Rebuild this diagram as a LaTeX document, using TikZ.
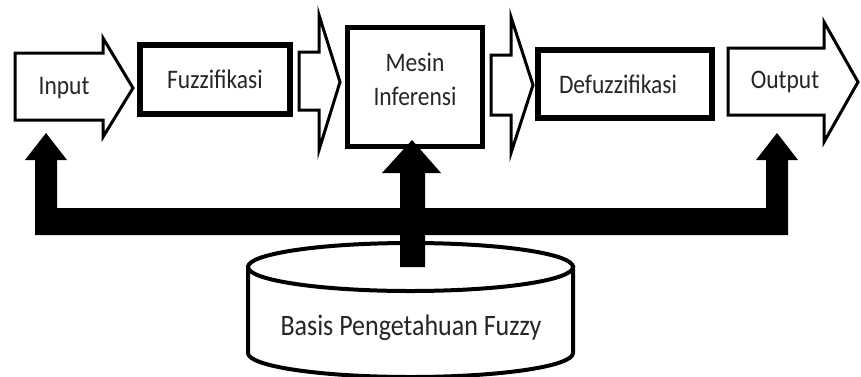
\documentclass[tikz,border=0pt]{standalone}
\usepackage{graphicx}
\usepackage{fontspec}
\setmainfont{Carlito}
\newcommand\tallt[1]{\scalebox{1}[1.14]{#1}}
\tikzset{
  hollow/.style={draw=black, fill=white, line width=3pt, line join=miter},
  procbox/.style={draw=black, fill=white, line width=6pt, inner sep=0pt, text=black!85,
    font=\fontsize{23.5}{30}\selectfont},
  lbl/.style={inner sep=0pt, text=black!85, font=\fontsize{23.5}{30}\selectfont},
  feed/.style={fill=black, draw=none},
}
\begin{document}
\begin{tikzpicture}[x=1pt,y=-1pt]
\useasboundingbox (0,0) rectangle (861,376);
% input arrow
\draw[hollow] (15,53) -- (103,53) -- (103,38) -- (133,88) -- (103,137) -- (103,120) -- (15,120) -- cycle;
\node[lbl] (input) at (64,88) {\tallt{Input}};
% boxes
\node[procbox, minimum width=150pt, minimum height=69pt] (fuzz) at (215,79.5) {\tallt{Fuzzifikasi}};
\node[procbox, line width=5pt, minimum width=135pt, minimum height=119pt] (mesin) at (415,87)
  {\raisebox{5pt}[\height][\depth]{\tallt{\begin{tabular}{@{}c@{}}Mesin\\Inferensi\end{tabular}}}};
\node[procbox, minimum width=174pt, minimum height=68pt] (defuzz) at (625,84) {\tallt{Defuzzifikasi}\hspace*{14pt}};
% connecting hollow arrows
\draw[hollow] (299,52) -- (319,52) -- (319,15) -- (340,82) -- (319,150) -- (319,110) -- (299,110) -- cycle;
\draw[hollow] (491,55) -- (511,55) -- (511,17) -- (533,85) -- (511,153) -- (511,115) -- (491,115) -- cycle;
% output arrow
\draw[hollow] (728,48) -- (824,48) -- (824,22) -- (858,82) -- (824,142) -- (824,115) -- (728,115) -- cycle;
\node[lbl] (output) at (785,82) {\tallt{Output}};
% knowledge base cylinder
\draw[line width=4pt, fill=white] (248,267) -- (248,353)
  arc[start angle=180, end angle=360, x radius=162.5pt, y radius=24pt] -- (573,267) -- cycle;
\draw[line width=4pt, fill=white] (410.5,267) ellipse [x radius=162.5pt, y radius=24pt];
\node[inner sep=0pt, text=black!85, font=\fontsize{26}{30}\selectfont] (basis) at (411,328)
  {\tallt{Basis Pengetahuan Fuzzy}};
% feedback arrows
\fill[feed] (35,235) -- (35,160) -- (25,160) -- (46,133) -- (67,160) -- (57,160) -- (57,208)
  -- (766,208) -- (766,160) -- (756,160) -- (777,133) -- (798,160) -- (788,160) -- (788,235) -- cycle;
\fill[feed] (400,267) -- (400,173) -- (382,173) -- (412,140) -- (441,173) -- (425,173) -- (425,267) -- cycle;
\end{tikzpicture}
\end{document}
